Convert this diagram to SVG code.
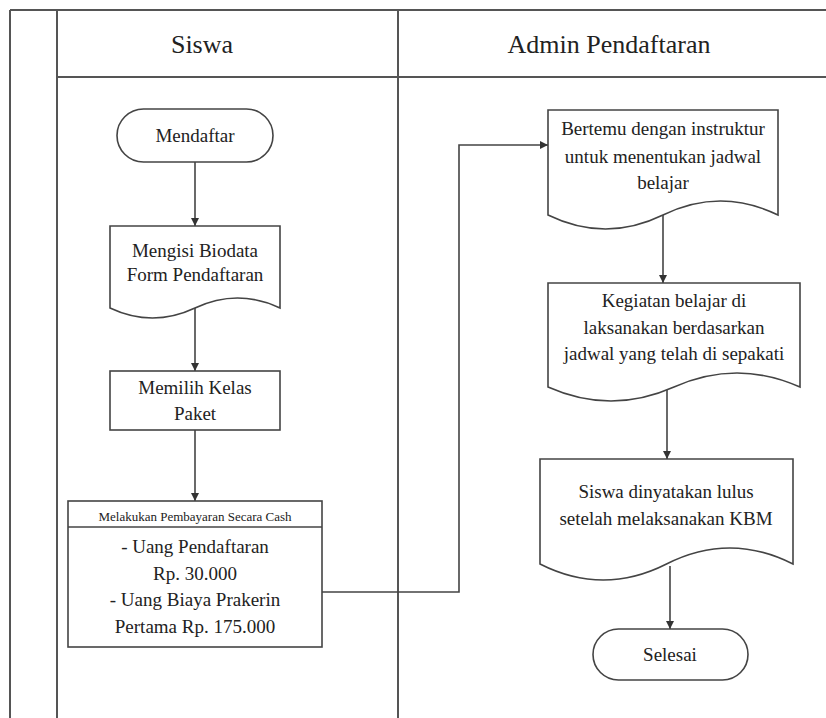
<svg xmlns="http://www.w3.org/2000/svg" width="826" height="718" viewBox="0 0 826 718">
<defs>
<style>
.lane{stroke:#555;stroke-width:2;fill:none}
.shape{fill:#fff;stroke:#444;stroke-width:1.6}
.conn{fill:none;stroke:#444;stroke-width:1.6}
.t,.h,.s{font-family:"Liberation Serif","Times New Roman",Times,"DejaVu Serif",serif;fill:#222;text-anchor:middle}
.t{font-size:19px}
.h{font-size:26px}
.s{font-size:13px}
</style>
<marker id="arr" markerUnits="userSpaceOnUse" markerWidth="10" markerHeight="10" refX="8" refY="4" orient="auto">
<path d="M0,0 L8,4 L0,8 Z" fill="#333"/>
</marker>
</defs>
<rect width="826" height="718" fill="#fff"/>
<g id="lanes">
<line class="lane" x1="10" y1="10" x2="826" y2="10"/>
<line class="lane" x1="10" y1="10" x2="10" y2="718"/>
<line class="lane" x1="57" y1="10" x2="57" y2="718"/>
<line class="lane" x1="398" y1="10" x2="398" y2="718"/>
<line class="lane" x1="57" y1="77" x2="826" y2="77"/>
<text class="h" x="202" y="53">Siswa</text>
<text class="h" x="609" y="53">Admin Pendaftaran</text>
</g>
<g id="connectors">
<line class="conn" x1="195" y1="162" x2="195" y2="226" marker-end="url(#arr)"/>
<line class="conn" x1="195" y1="308" x2="195" y2="371" marker-end="url(#arr)"/>
<line class="conn" x1="195" y1="430" x2="195" y2="501" marker-end="url(#arr)"/>
<polyline class="conn" points="322,592 459,592 459,145 548,145" marker-end="url(#arr)"/>
<line class="conn" x1="663" y1="215" x2="663" y2="283" marker-end="url(#arr)"/>
<line class="conn" x1="667" y1="390" x2="667" y2="459" marker-end="url(#arr)"/>
<line class="conn" x1="670" y1="566" x2="670" y2="629" marker-end="url(#arr)"/>
</g>
<g id="mendaftar">
<rect class="shape" x="117" y="109" width="156" height="53" rx="26.5"/>
<text class="t" x="195" y="142">Mendaftar</text>
</g>
<g id="mengisi">
<path class="shape" d="M110,226 H280 V308 Q237.5,288 195,308 T110,308 Z"/>
<text class="t" x="195" y="257">Mengisi Biodata</text>
<text class="t" x="195" y="281">Form Pendaftaran</text>
</g>
<g id="memilih">
<rect class="shape" x="110" y="371" width="170" height="59"/>
<text class="t" x="195" y="394">Memilih Kelas</text>
<text class="t" x="195" y="420">Paket</text>
</g>
<g id="pembayaran">
<rect class="shape" x="68" y="501" width="254" height="146"/>
<line class="shape" x1="68" y1="527" x2="322" y2="527"/>
<text class="s" x="195" y="521">Melakukan Pembayaran Secara Cash</text>
<text class="t" x="195" y="553">- Uang Pendaftaran</text>
<text class="t" x="195" y="580">Rp. 30.000</text>
<text class="t" x="195" y="606">- Uang Biaya Prakerin</text>
<text class="t" x="195" y="633">Pertama Rp. 175.000</text>
</g>
<g id="bertemu">
<path class="shape" d="M548,110 H778 V215 Q720.5,187 663,215 T548,215 Z"/>
<text class="t" x="663" y="135">Bertemu dengan instruktur</text>
<text class="t" x="663" y="163">untuk menentukan jadwal</text>
<text class="t" x="663" y="189">belajar</text>
</g>
<g id="kegiatan">
<path class="shape" d="M548,283 H800 V387 Q737,359 674,387 T548,387 Z"/>
<text class="t" x="674" y="307">Kegiatan belajar di</text>
<text class="t" x="674" y="334">laksanakan berdasarkan</text>
<text class="t" x="674" y="360">jadwal yang telah di sepakati</text>
</g>
<g id="lulus">
<path class="shape" d="M540,459 H793 V564 Q729.75,532 666.5,564 T540,564 Z"/>
<text class="t" x="666" y="498">Siswa dinyatakan lulus</text>
<text class="t" x="666" y="525">setelah melaksanakan KBM</text>
</g>
<g id="selesai">
<rect class="shape" x="593" y="629" width="155" height="51" rx="25.5"/>
<text class="t" x="670" y="661">Selesai</text>
</g>
</svg>
